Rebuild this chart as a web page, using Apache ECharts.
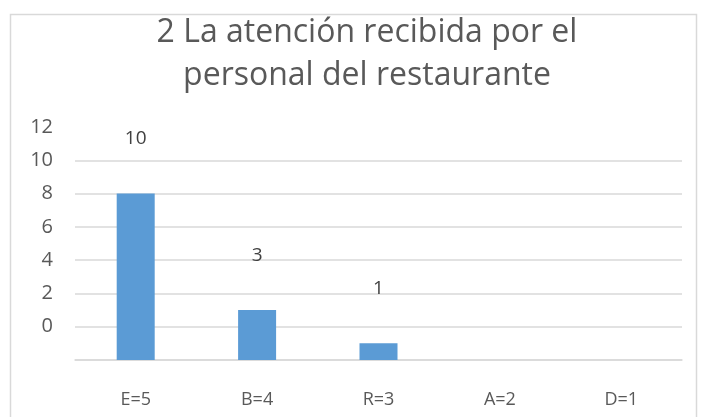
<!DOCTYPE html>
<html>
<head>
<meta charset="utf-8">
<script src="https://cdn.jsdelivr.net/npm/echarts@6/dist/echarts.min.js"></script>
<style>
  html, body { margin: 0; padding: 0; background: #fff; }
  #chart { width: 701px; height: 417px; }
</style>
</head>
<body>
<div id="chart"></div>
<script>
const categories = ['E=5', 'B=4', 'R=3', 'A=2', 'D=1'];
const values = [10, 3, 1, 0, 0];
// the original prints its tick labels one gridline too high,
// so the axis runs one step past 12 and labels are shifted by one step
const yTicks = { min: 0, max: 14, interval: 2, shift: 2 };

const chart = echarts.init(document.getElementById('chart'));
const font = '"Open Sans", Lato, sans-serif';
const gridColors = [];
for (let v = yTicks.min; v <= yTicks.max; v += yTicks.interval) {
  gridColors.push(v === yTicks.max ? 'rgba(0,0,0,0)' : '#d9d9d9');
}

chart.setOption({
  animation: false,
  graphic: [
    {
      type: 'rect',
      shape: { x: 10.5, y: 14.5, width: 686, height: 420 },
      style: { fill: 'none', stroke: '#d9d9d9', lineWidth: 1.5 },
      silent: true
    }
  ],
  title: {
    text: '2 La atención recibida por el\npersonal del restaurante',
    left: 362,
    textAlign: 'center',
    top: 6,
    textStyle: {
      fontFamily: font,
      fontSize: 32,
      fontWeight: 'normal',
      color: '#595959',
      lineHeight: 43
    }
  },
  grid: { left: 75, right: 19, top: 127, bottom: 57 },
  xAxis: {
    type: 'category',
    data: categories,
    axisLine: { lineStyle: { color: '#d9d9d9', width: 1.5 } },
    axisTick: { show: false },
    axisLabel: { color: '#595959', fontFamily: font, fontSize: 18, margin: 31 }
  },
  yAxis: {
    type: 'value',
    min: yTicks.min,
    max: yTicks.max,
    interval: yTicks.interval,
    axisLine: { show: false },
    axisTick: { show: false },
    splitLine: { lineStyle: { color: gridColors, width: 1.5 } },
    axisLabel: {
      color: '#595959',
      fontFamily: font,
      fontSize: 20,
      margin: 22,
      formatter: v => (v < yTicks.shift ? '' : String(v - yTicks.shift))
    }
  },
  series: [
    {
      type: 'bar',
      data: values,
      barWidth: 38,
      itemStyle: { color: '#5B9BD5' },
      label: {
        show: true,
        position: 'top',
        distance: 45,
        color: '#404040',
        fontFamily: font,
        fontSize: 19,
        formatter: p => (p.value ? String(p.value) : '')
      }
    }
  ]
});
</script>
</body>
</html>
